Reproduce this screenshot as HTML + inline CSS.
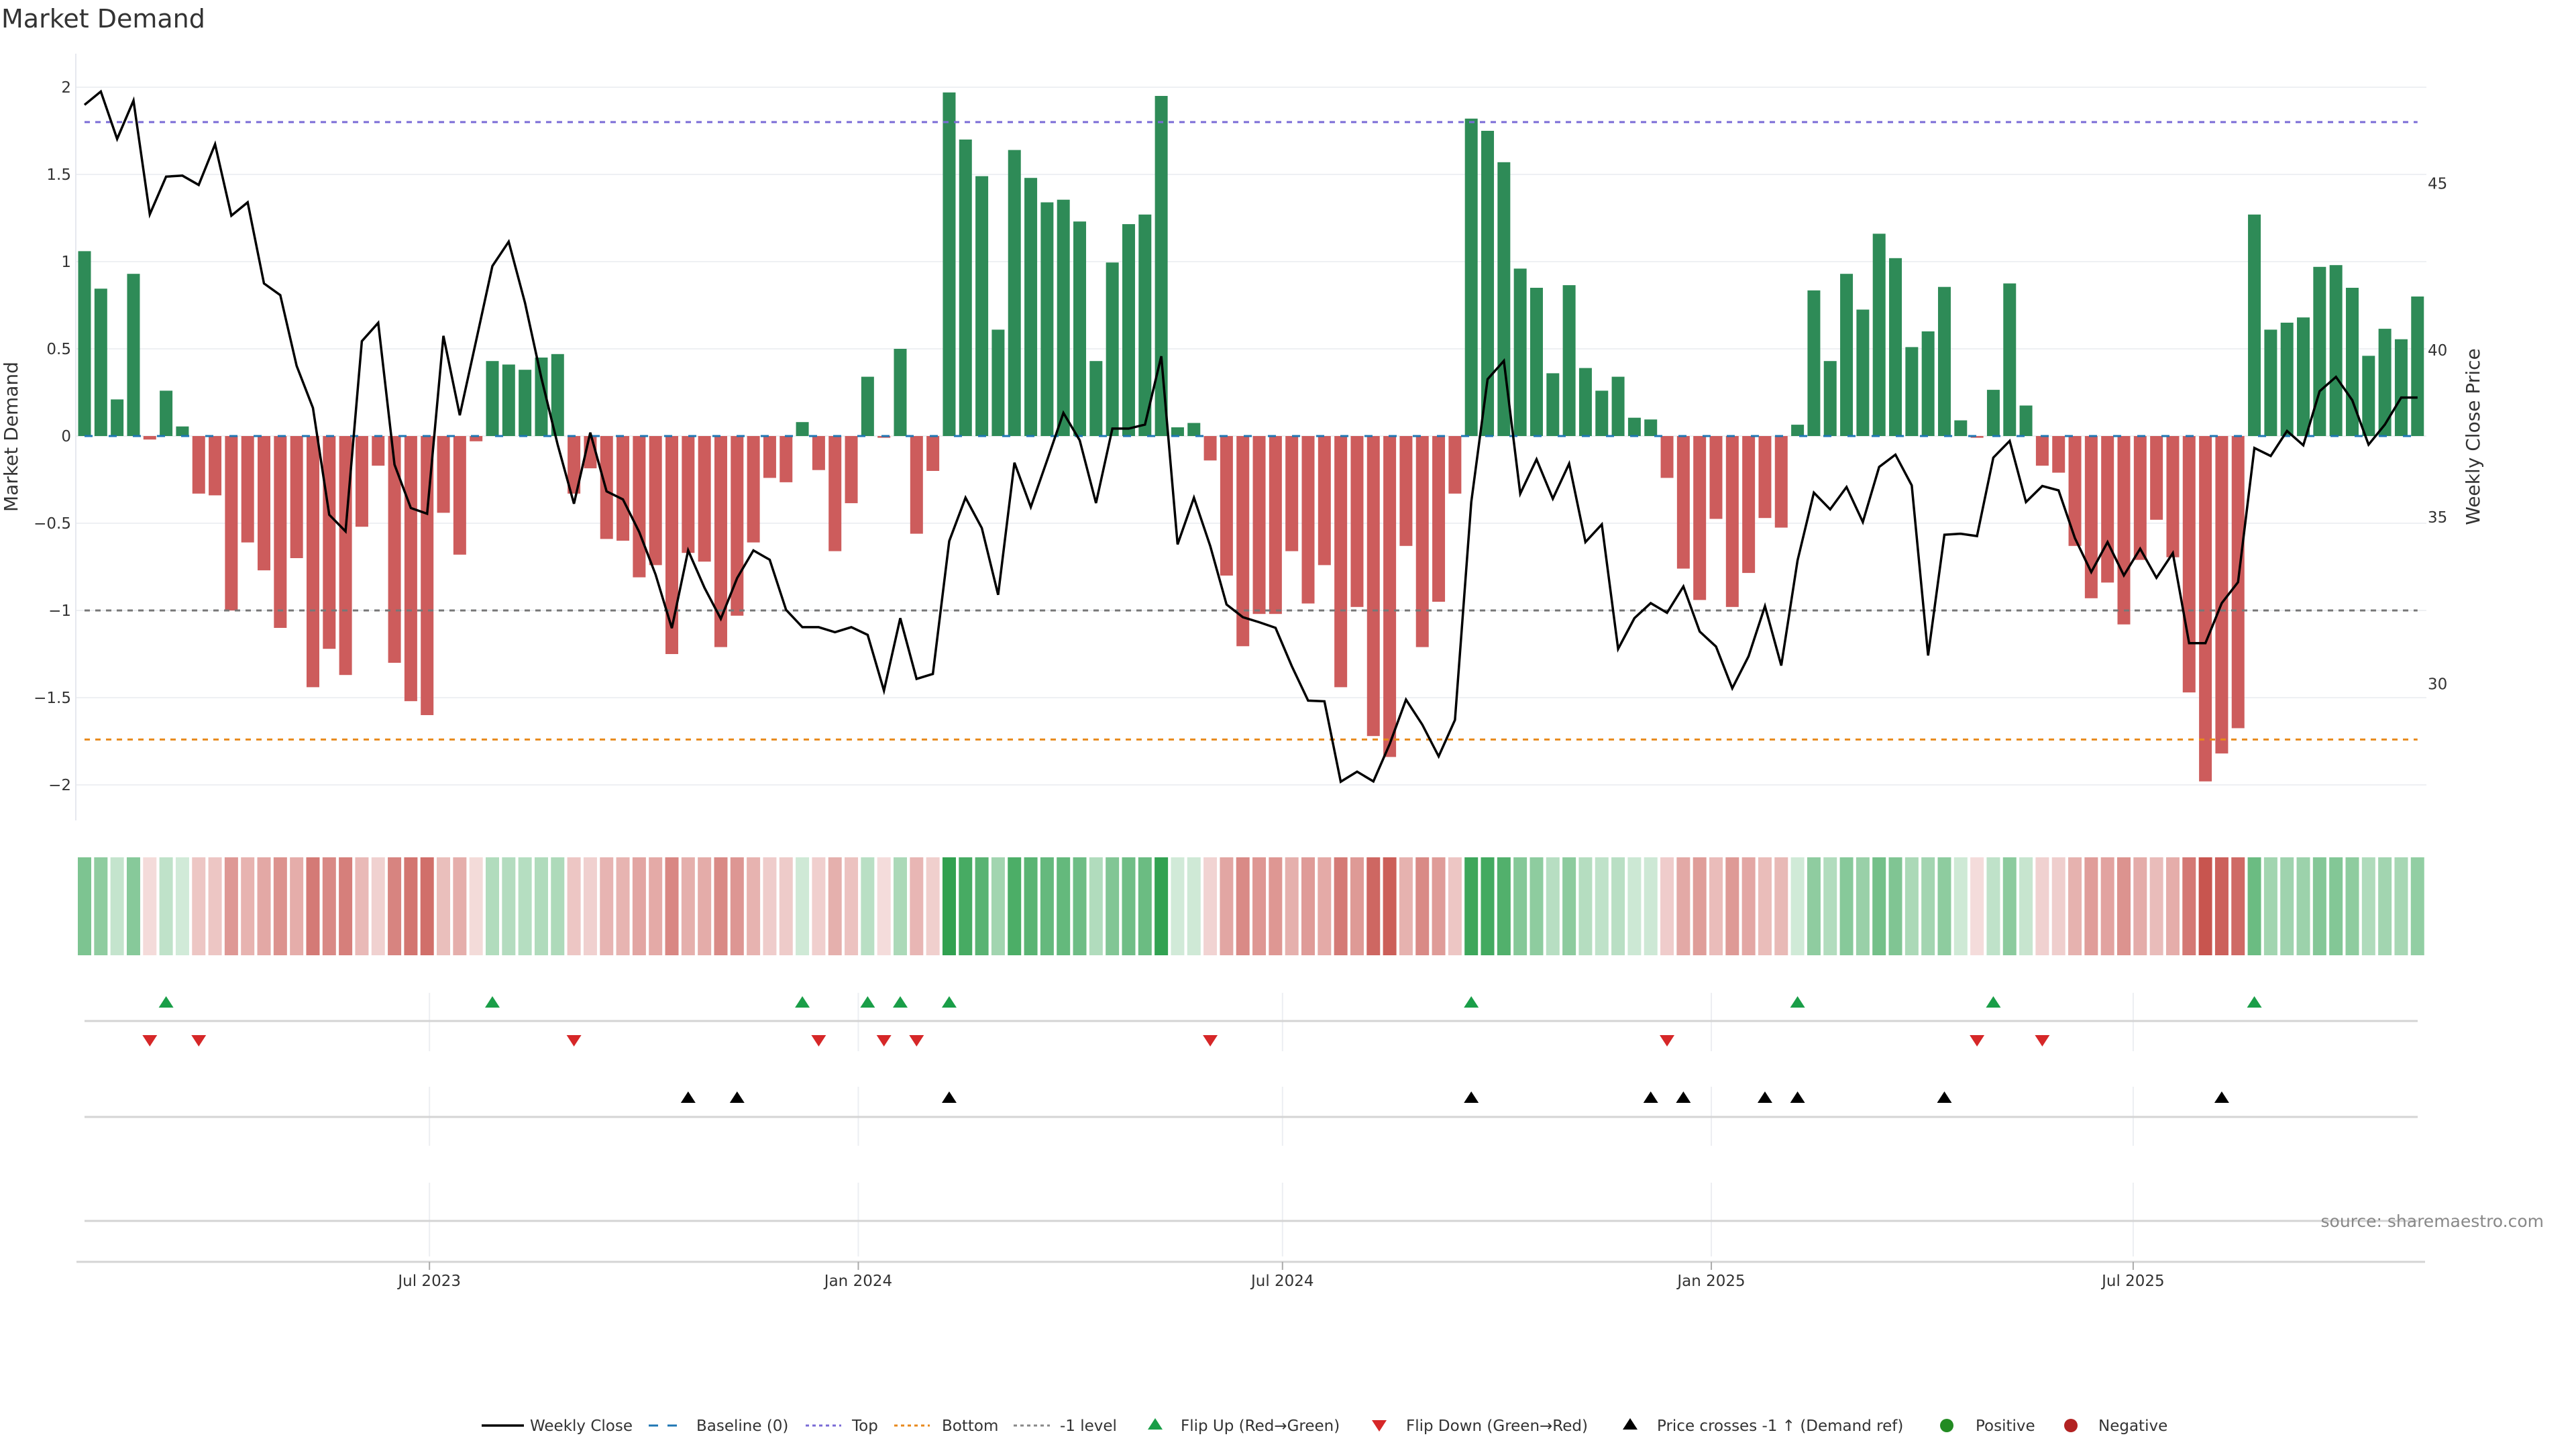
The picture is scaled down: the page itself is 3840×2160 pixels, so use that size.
<!DOCTYPE html>
<html><head><meta charset="utf-8"><style>
html,body{margin:0;padding:0;background:#fff;}
svg{display:block;font-family:"DejaVu Sans","Liberation Sans",sans-serif;}
</style></head><body>
<svg id="chart" xmlns="http://www.w3.org/2000/svg" width="3840" height="2160" viewBox="0 0 3840 2160">
<rect width="3840" height="2160" fill="#fff"/>
<text x="2" y="41" font-size="38" fill="#333">Market Demand</text>
<g id="grid"></g><g id="bars"></g><g id="refs"></g><g id="line"></g><g id="heat"></g><g id="markers"></g><g id="axes"></g>
<text transform="translate(26,651) rotate(-90)" text-anchor="middle" font-size="28" fill="#333">Market Demand</text>
<text transform="translate(3696,651) rotate(-90)" text-anchor="middle" font-size="28" fill="#333">Weekly Close Price</text>
<text x="3792" y="1829" text-anchor="end" font-size="25" fill="#888">source: sharemaestro.com</text>
<g id="legend"></g>
</svg>
<script>
const demand=[1.06,0.845,0.21,0.93,-0.02,0.26,0.055,-0.33,-0.34,-1.0,
-0.61,-0.77,-1.10,-0.70,-1.44,-1.22,-1.37,-0.52,-0.17,-1.30,
-1.52,-1.60,-0.44,-0.68,-0.03,0.43,0.41,0.38,0.45,0.47,
-0.33,-0.185,-0.59,-0.60,-0.81,-0.74,-1.25,-0.67,-0.72,-1.21,
-1.03,-0.61,-0.24,-0.265,0.08,-0.195,-0.66,-0.385,0.34,-0.01,
0.50,-0.56,-0.20,1.97,1.70,1.49,0.61,1.64,1.48,1.34,
1.355,1.23,0.43,0.995,1.215,1.27,1.95,0.05,0.075,-0.14,
-0.80,-1.205,-1.02,-1.02,-0.66,-0.96,-0.74,-1.44,-0.98,-1.72,
-1.84,-0.63,-1.21,-0.95,-0.33,1.82,1.75,1.57,0.96,0.85,
0.36,0.865,0.39,0.26,0.34,0.105,0.095,-0.24,-0.76,-0.94,
-0.475,-0.98,-0.785,-0.47,-0.525,0.065,0.835,0.43,0.93,0.725,
1.16,1.02,0.51,0.60,0.855,0.09,-0.01,0.265,0.875,0.175,
-0.17,-0.21,-0.63,-0.93,-0.84,-1.08,-0.71,-0.48,-0.695,-1.47,
-1.98,-1.82,-1.675,1.27,0.61,0.65,0.68,0.97,0.98,0.85,
0.46,0.615,0.555,0.80];
const price=[47.35,47.75,46.33,47.48,44.07,45.2,45.23,44.95,46.17,44.03,
44.43,42.0,41.65,39.53,38.27,35.07,34.57,40.27,40.82,36.57,
35.27,35.1,40.43,38.05,40.28,42.52,43.25,41.42,39.17,37.17,
35.4,37.53,35.77,35.53,34.55,33.28,31.67,34.0,32.88,31.95,
33.17,34.0,33.72,32.22,31.7,31.7,31.55,31.7,31.47,29.8,
31.97,30.15,30.3,34.28,35.58,34.67,32.67,36.63,35.3,36.7,
38.12,37.3,35.42,37.65,37.65,37.77,39.82,34.18,35.58,34.13,
32.38,32.0,31.85,31.68,30.53,29.5,29.48,27.07,27.37,27.08,
28.2,29.53,28.78,27.83,28.92,35.45,39.13,39.68,35.7,36.73,
35.55,36.6,34.25,34.78,31.05,31.97,32.42,32.13,32.92,31.57,
31.12,29.87,30.83,32.33,30.55,33.7,35.73,35.23,35.9,34.85,
36.5,36.87,35.95,30.85,34.47,34.5,34.43,36.78,37.28,35.45,
35.93,35.8,34.37,33.35,34.25,33.25,34.05,33.18,33.92,31.22,
31.22,32.42,33.05,37.07,36.83,37.58,37.15,38.77,39.2,38.5,
37.17,37.77,38.58,38.58];
const startDate="2023-02-03";
const xTickDates=["2023-07-01","2024-01-01","2024-07-01","2025-01-01","2025-07-01"];
const xTickLabels=["Jul 2023","Jan 2024","Jul 2024","Jan 2025","Jul 2025"];
const yTicks=[2,1.5,1,0.5,0,-0.5,-1,-1.5,-2];
const yTickLabels=["2","1.5","1","0.5","0","\u22120.5","\u22121","\u22121.5","\u22122"];
const y2Ticks=[30,35,40,45];
const topLevel=1.8, bottomLevel=-1.74, minusLevel=-1;

const NS="http://www.w3.org/2000/svg";
function mk(parent,tag,attrs){const e=document.createElementNS(NS,tag);for(const k in attrs)e.setAttribute(k,attrs[k]);document.getElementById(parent).appendChild(e);return e;}
const X0=126, DX=24.32;
function xIdx(i){return X0+DX*i;}
function xDate(s){const d=(new Date(s+"T00:00:00Z")-new Date(startDate+"T00:00:00Z"))/86400000;return xIdx(d/7);}
function yD(v){return 650-260*v;}
function yP(p){return 522-49.75*(p-40);}
function pFromY(y){return 40-(y-522)/49.75;}
const N=demand.length;

yTicks.forEach((t,k)=>{
 const g=mk('grid','line',{x1:113,x2:3617,y1:yD(t),y2:yD(t),stroke:'#eef0f3','stroke-width':2});
 
 
 const tx=mk('axes','text',{x:106,y:yD(t)+8,'text-anchor':'end','font-size':23,fill:'#333'});
 tx.textContent=yTickLabels[k];
 
 
});
y2Ticks.forEach(t=>{
 const tx=mk('axes','text',{x:3619,y:yP(t)+8,'font-size':23,fill:'#333'});
 tx.textContent=String(t);
 
 
});
let ax=mk('axes','line',{x1:113,x2:113,y1:80,y2:1223,stroke:'#e6e8ee','stroke-width':2});



demand.forEach((v,i)=>{
 const y=Math.min(yD(v),yD(0)),h=Math.abs(yD(v)-yD(0));
 const r=mk('bars','rect',{x:xIdx(i)-9.5,y:y,width:19,height:Math.max(h,1.5),fill:v>=0?'#2e8b57':'#cd5c5c'});
 
 
});
function ref(v,color,name,dash){
 const l=mk('refs','line',{x1:xIdx(0),x2:xIdx(N-1),y1:yD(v),y2:yD(v),stroke:color,'stroke-width':3,'stroke-dasharray':dash});
 
 
}
ref(0,'#1f77b4','baseline-zero','12,24');
ref(topLevel,'#7a6bd6','top-level-line','8,8');
ref(bottomLevel,'#e8891c','bottom-level-line','8,8');
ref(minusLevel,'#777','minus-one-level-line','8,8');
const pl=mk('line','polyline',{points:price.map((p,i)=>xIdx(i).toFixed(1)+','+yP(p).toFixed(1)).join(' '),fill:'none',stroke:'#000','stroke-width':3.5,'stroke-linejoin':'miter'});



function heatColor(v){
 const t=Math.min(Math.abs(v)/2,1), a=0.2+0.8*t;
 const base=v>=0?[46,160,78]:[200,84,78];
 const c=base.map(b=>Math.round(255+(b-255)*a));
 return 'rgb('+c.join(',')+')';
}
demand.forEach((v,i)=>{
 const r=mk('heat','rect',{x:xIdx(i)-10,y:1278,width:20,height:146,fill:heatColor(v)});
 
 
});

[[1480,1567],[1620,1708],[1763,1873]].forEach(seg=>{
 xTickDates.forEach(d=>{
  const l=mk('markers','line',{x1:xDate(d),x2:xDate(d),y1:seg[0],y2:seg[1],stroke:'#eceef2','stroke-width':2});
  
  
 });
});
[1522,1665,1820].forEach(y=>{
 const l=mk('markers','line',{x1:126,x2:3604,y1:y,y2:y,stroke:'#d4d4d4','stroke-width':3});
 
 
});
function tri(x,y,up,color,name){
 const pts=up?[[x-11,y+8],[x+11,y+8],[x,y-9]]:[[x-11,y-8],[x+11,y-8],[x,y+9]];
 const p=mk('markers','polygon',{points:pts.map(q=>q.join(',')).join(' '),fill:color});
 
 
}
const priceRef=pFromY(yD(minusLevel));
for(let i=1;i<N;i++){
 if(demand[i]>0&&demand[i-1]<=0) tri(xIdx(i),1494,true,'#1a9e48','flip-up-marker');
 if(demand[i]<=0&&demand[i-1]>0) tri(xIdx(i),1551,false,'#d62728','flip-down-marker');
 if(price[i]>priceRef&&price[i-1]<=priceRef) tri(xIdx(i),1636,true,'#000','price-cross-marker');
}
let xa=mk('axes','line',{x1:114,x2:3615,y1:1881,y2:1881,stroke:'#d4d4d4','stroke-width':3});


xTickDates.forEach((d,k)=>{
 const t=mk('axes','line',{x1:xDate(d),x2:xDate(d),y1:1881,y2:1893,stroke:'#aaa','stroke-width':2});
 
 
 const tx=mk('axes','text',{x:xDate(d),y:1917,'text-anchor':'middle','font-size':23,fill:'#333'});
 tx.textContent=xTickLabels[k];
 
 
});

const LY=2125;
function ltext(x,s){const t=mk('legend','text',{x:x,y:LY+8,'font-size':23,fill:'#333'});t.textContent=s;
 
 }
function lline(x1,x2,color,dash,w){const l=mk('legend','line',{x1:x1,x2:x2,y1:LY,y2:LY,stroke:color,'stroke-width':w,'stroke-dasharray':dash});
 
 }
lline(718,781,'#000','none',3.5);ltext(790,'Weekly Close');
lline(967,1023,'#1f77b4','14,14',3);ltext(1038,'Baseline (0)');
lline(1201,1254,'#7a6bd6','5,5',3);ltext(1270,'Top');
lline(1333,1386,'#e8891c','5,5',3);ltext(1404,'Bottom');
lline(1511,1565,'#888','5,5',3);ltext(1580,'-1 level');
tri(1722,LY-2,true,'#1a9e48','legend-flip-up');ltext(1760,'Flip Up (Red\u2192Green)');
tri(2056,LY,false,'#d62728','legend-flip-down');ltext(2096,'Flip Down (Green\u2192Red)');
tri(2430,LY-2,true,'#000','legend-price-cross');ltext(2470,'Price crosses -1 \u2191 (Demand ref)');
let c1=mk('legend','circle',{cx:2902,cy:LY,r:10,fill:'#228b22'});


ltext(2945,'Positive');
let c2=mk('legend','circle',{cx:3087,cy:LY,r:10,fill:'#b22222'});


ltext(3128,'Negative');
</script>
</body></html>
